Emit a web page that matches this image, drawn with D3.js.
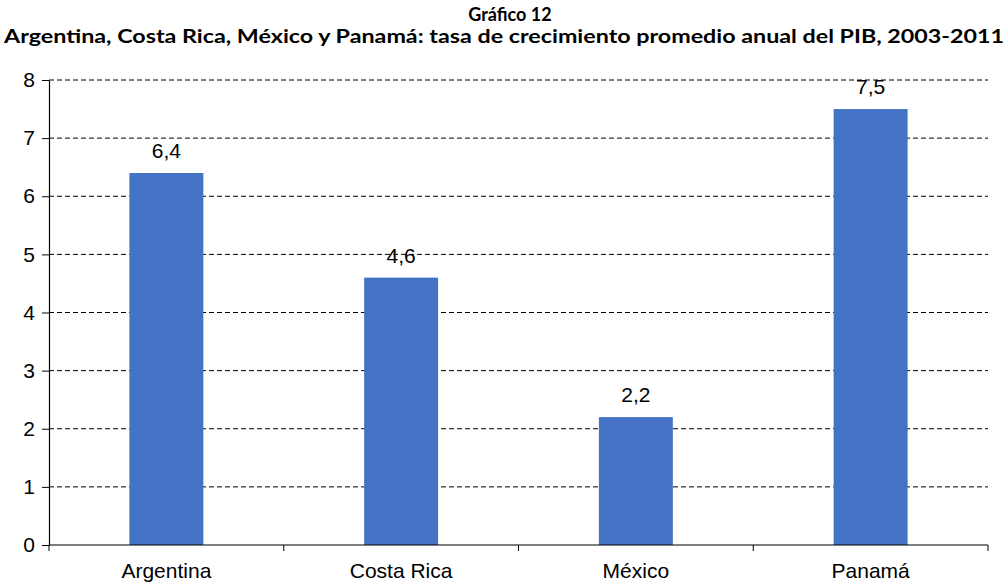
<!DOCTYPE html>
<html>
<head>
<meta charset="utf-8">
<script src="https://cdn.jsdelivr.net/npm/d3@7"></script>
<style>
  body { margin: 0; background: #fff; }
  svg { display: block; }
</style>
</head>
<body>
<div id="chart"></div>
<script>
const categories = ["Argentina", "Costa Rica", "México", "Panamá"]
const values = [6.4, 4.6, 2.2, 7.5]
const yTicks = [0, 1, 2, 3, 4, 5, 6, 7, 8]
const titleLines = [
  "Gráfico 12",
  "Argentina, Costa Rica, México y Panamá: tasa de crecimiento promedio anual del PIB, 2003-2011",
]

const width = 1008
const height = 584
const m = {top: 80, right: 20, bottom: 39, left: 49}
const iw = width - m.left - m.right
const ih = height - m.top - m.bottom
const FONT = "'Liberation Sans', Arial, sans-serif"
const FS = 21

const svg = d3.select("#chart").append("svg").attr("width", width).attr("height", height)

// titles
svg.append("text")
  .attr("x", 510).attr("y", 21)
  .attr("text-anchor", "middle")
  .attr("font-family", "Lato, 'Noto Sans', sans-serif")
  .attr("font-weight", "bold").attr("font-size", 18)
  .text(titleLines[0])
svg.append("text")
  .attr("x", 504).attr("y", 43)
  .attr("text-anchor", "middle")
  .attr("font-family", "Lato, 'Noto Sans', sans-serif")
  .attr("font-weight", "bold").attr("font-size", 18)
  .attr("textLength", 1000).attr("lengthAdjust", "spacingAndGlyphs")
  .text(titleLines[1])

const x = d3.scaleBand().domain(categories).range([0, iw]).padding(0)
const y = d3.scaleLinear().domain([0, 8]).range([ih, 0])
const barW = x.bandwidth() * 0.315

const g = svg.append("g").attr("transform", `translate(${m.left},${m.top})`)

// dashed gridlines
g.append("g")
  .selectAll("line")
  .data(yTicks.filter((d) => d > 0))
  .join("line")
  .attr("x1", 0).attr("x2", iw)
  .attr("y1", (d) => y(d)).attr("y2", (d) => y(d))
  .attr("stroke", "#000").attr("stroke-width", 1)
  .attr("stroke-dasharray", "5,3")

// bars
g.append("g")
  .selectAll("rect")
  .data(values)
  .join("rect")
  .attr("x", (d, i) => x(categories[i]) + (x.bandwidth() - barW) / 2)
  .attr("y", (d) => y(d))
  .attr("width", barW)
  .attr("height", (d) => ih - y(d))
  .attr("fill", "#4472C4")

// value labels
g.append("g")
  .selectAll("text")
  .data(values)
  .join("text")
  .attr("x", (d, i) => x(categories[i]) + x.bandwidth() / 2)
  .attr("y", (d) => y(d) - 15)
  .attr("text-anchor", "middle")
  .attr("font-family", FONT)
  .attr("font-size", FS)
  .text((d) => d3.format(".1f")(d).replace(".", ","))

// y axis
g.append("g")
  .call(d3.axisLeft(y).tickValues(yTicks).tickSize(7).tickSizeOuter(0).tickPadding(7))
  .call((gg) => gg.attr("font-size", null).attr("font-family", null))
  .call((gg) => gg.select(".domain").attr("stroke", "#000").attr("stroke-width", 1.2))
  .call((gg) => gg.selectAll("line").attr("stroke", "#000"))
  .call((gg) => gg.selectAll("text")
    .attr("font-family", FONT)
    .attr("font-size", FS).attr("fill", "#000"))

// x axis with ticks on category boundaries
const xa = g.append("g").attr("transform", `translate(0,${ih})`)
xa.append("line").attr("x1", 0).attr("x2", iw).attr("stroke", "#000").attr("stroke-width", 1.2)
xa.selectAll("line.tk")
  .data(d3.range(categories.length + 1))
  .join("line")
  .attr("class", "tk")
  .attr("x1", (i) => i * x.step()).attr("x2", (i) => i * x.step())
  .attr("y1", 0).attr("y2", 6)
  .attr("stroke", "#000")
xa.selectAll("text")
  .data(categories)
  .join("text")
  .attr("x", (d) => x(d) + x.bandwidth() / 2)
  .attr("y", 33)
  .attr("text-anchor", "middle")
  .attr("font-family", FONT)
  .attr("font-size", FS)
  .text((d) => d)
</script>
</body>
</html>
